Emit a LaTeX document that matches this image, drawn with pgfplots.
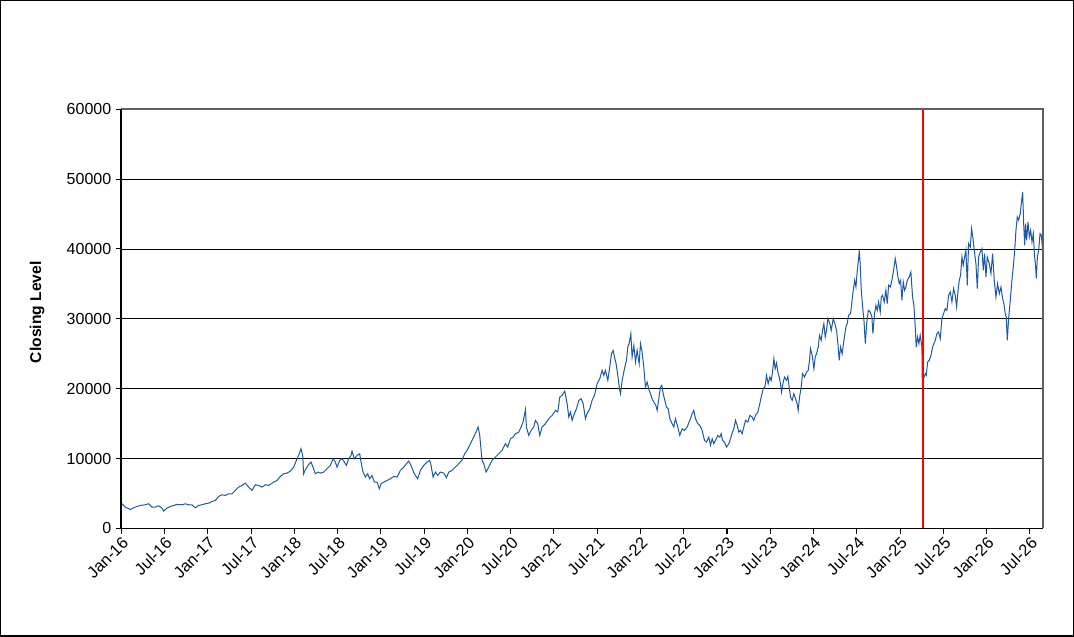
\documentclass[border=0pt]{standalone}
\usepackage{pgfplots}
\pgfplotsset{compat=1.18}
\usepackage{fontspec}
\setmainfont{Liberation Sans}
\definecolor{serblue}{RGB}{30,88,168}
\begin{document}
\begin{tikzpicture}
\begin{axis}[
  at={(0,0)}, anchor=origin,
  scale only axis,
  width=690.75pt, height=314.25pt,
  xmin=0, xmax=127.8, ymin=0, ymax=60000,
  xtick={0,6,...,126},
  xticklabels={Jan-16,Jul-16,Jan-17,Jul-17,Jan-18,Jul-18,Jan-19,Jul-19,Jan-20,Jul-20,Jan-21,Jul-21,Jan-22,Jul-22,Jan-23,Jul-23,Jan-24,Jul-24,Jan-25,Jul-25,Jan-26,Jul-26},
  ytick={0,10000,...,60000},
  xtick pos=bottom, ytick pos=left,
  scaled y ticks=false,
  /pgf/number format/assume math mode=true,
  yticklabel style={/pgf/number format/fixed,/pgf/number format/1000 sep={},font=\fontsize{12}{14}\selectfont},
  xticklabel style={rotate=45,anchor=north east,font=\fontsize{12.3}{14}\selectfont,inner sep=1pt},
  tick align=outside,
  major tick length=4pt,
  tick style={black,line width=0.8pt},
  ymajorgrids, grid style={black,line width=0.6pt},
  axis line style={draw=none},
  clip=false,
  every axis y label/.style={at={(-63pt,162pt)},rotate=90,anchor=center,font=\fontsize{11.7}{14}\selectfont\bfseries},
  ylabel={Closing Level},
]
\addplot[serblue,line width=0.75pt] coordinates {
(0.00,3600)(0.09,3533)(0.55,3055)(1.25,2721)(1.94,3055)(2.64,3294)(3.33,3390)(3.79,3533)(4.25,3055)(4.72,3055)(5.18,3246)(5.64,2911)(5.87,2482)(6.34,2911)(6.80,3150)(7.26,3294)(7.72,3437)(8.42,3390)(8.88,3533)(9.34,3390)(9.80,3390)(10.27,2960)(10.73,3294)(11.19,3390)(11.65,3533)(12.12,3628)(12.58,3866)(13.04,4010)(13.50,4582)(13.97,4821)(14.43,4726)(14.89,4964)(15.35,4964)(15.82,5442)(16.28,5919)(16.74,6158)(17.20,6492)(17.66,5919)(18.13,5442)(18.59,6254)(19.05,6158)(19.51,5919)(19.98,6254)(20.44,6158)(21.13,6635)(21.60,6874)(22.06,7446)(22.52,7828)(22.98,7923)(23.45,8210)(23.91,8783)(24.37,9976)(24.69,10693)(24.92,11409)(25.16,10454)(25.29,7828)(25.53,8401)(25.99,9165)(26.31,9499)(26.59,8783)(26.91,7828)(27.28,8067)(27.61,7923)(28.07,8067)(28.53,8544)(28.99,9022)
(29.36,9976)(29.69,9499)(29.92,8783)(30.29,9738)(30.61,9976)(30.94,9499)(31.21,9022)(31.54,9976)(31.86,10454)(32.00,11075)(32.32,9976)(32.69,10454)(33.06,10693)(33.25,9499)(33.53,8067)(33.85,7350)(34.17,7828)(34.45,7112)(34.77,7590)(35.10,6635)(35.47,6635)(35.79,5681)(36.02,6397)(36.39,6635)(36.86,6874)(37.32,7112)(37.78,7446)(38.24,7350)(38.70,8306)(39.17,8783)(39.54,9261)(39.86,9642)(40.18,9022)(40.55,8067)(40.79,7590)(41.11,7112)(41.48,8306)(41.94,9022)(42.40,9499)(42.77,9738)(42.96,9022)(43.24,7350)(43.56,8067)(43.88,7590)(44.25,8067)(44.72,7923)(45.09,7255)(45.41,8067)(45.87,8306)(46.34,8783)(46.80,9261)(47.26,9833)(47.63,10693)(47.95,11170)(48.42,12125)(48.88,13078)(49.20,13795)(49.48,14511)(49.71,13318)(49.90,11170)(50.03,9738)(50.27,9261)(50.59,8067)(50.96,8783)(51.42,9738)(51.88,10215)(52.35,10693)(52.81,11170)(53.27,12125)(53.59,11648)(53.97,12841)(54.34,13078)(54.66,13556)(55.12,13795)(55.44,14511)(55.72,15227)
(56.05,16994)(56.18,14511)(56.51,13318)(56.83,14034)(57.20,14511)(57.43,15466)(57.76,14989)(58.03,13318)(58.36,14511)(58.82,14989)(59.28,15705)(59.75,16182)(60.21,16898)(60.53,16659)(60.81,18807)(61.13,19046)(61.50,19666)(61.83,17853)(62.06,15943)(62.29,16659)(62.52,15466)(62.75,16182)(63.12,17137)(63.45,18330)(63.77,18568)(64.05,17853)(64.37,15705)(64.60,16420)(64.97,17137)(65.29,18330)(65.62,19046)(65.99,20717)(66.36,21433)(66.68,22626)(66.91,21910)(67.14,22626)(67.47,21194)(67.74,23103)(67.98,25013)(68.21,25490)(68.39,24535)(68.62,23580)(68.86,21910)(69.09,20000)(69.23,19285)(69.46,21194)(69.78,22865)(70.06,24058)(70.24,25967)(70.43,26445)(70.66,27877)(70.84,24535)(71.08,26206)(71.31,23818)(71.54,25490)(71.82,23580)(72.00,26445)(72.23,25251)(72.46,23103)(72.69,20239)(72.92,20955)(73.20,19762)(73.39,19285)(73.62,18568)(73.85,18091)(74.13,17614)(74.32,16898)(74.54,18568)(74.78,20239)(74.96,20478)(75.15,19285)(75.38,18330)(75.61,17375)(75.84,17137)(76.07,15705)(76.39,14989)(76.62,14511)(76.85,15705)(77.18,14511)(77.45,13318)(77.78,14273)(78.10,14034)(78.47,14511)(78.84,15466)(79.17,16420)(79.40,16898)(79.63,15705)(79.95,14989)(80.23,14750)(80.55,14034)(80.88,12602)
(81.16,12363)(81.48,13078)(81.71,11886)(81.94,12841)(82.17,12125)(82.40,12602)(82.73,13318)(83.00,13078)(83.19,13556)(83.38,12602)(83.65,12363)(83.93,11648)(84.25,12125)(84.48,12841)(84.76,13795)(84.95,14273)(85.18,15466)(85.41,14750)(85.64,13795)(85.87,14034)(86.10,13556)(86.33,14511)(86.57,15466)(86.89,15227)(87.17,16182)(87.49,15943)(87.72,15466)(87.95,16182)(88.28,16659)(88.55,17853)(88.74,18807)(89.02,20000)(89.25,20239)(89.48,21910)(89.71,20717)(89.94,21671)(90.13,21194)(90.31,22387)(90.50,24297)(90.68,22865)(90.87,23676)(91.05,22387)(91.24,21671)(91.42,20717)(91.56,19523)(91.79,20955)(91.98,21671)(92.25,21194)(92.44,21766)(92.62,20239)(92.81,18807)(93.04,18330)(93.27,19285)(93.50,18568)(93.73,17853)(93.87,16898)(94.06,18807)(94.29,20239)(94.47,22149)(94.75,21671)(95.02,22387)(95.26,22626)(95.44,24058)(95.58,25729)(95.81,24774)(96.05,22865)(96.23,24535)(96.42,25013)(96.65,25967)(96.83,27638)(97.06,26922)(97.25,28354)(97.43,29309)(97.62,27399)(97.80,28354)(97.99,30025)(98.27,29309)(98.45,28354)(98.73,30025)(98.96,29309)(99.19,28354)(99.38,26445)(99.56,24058)(99.75,25967)(99.98,25013)(100.21,26922)(100.49,28831)(100.67,29309)(100.86,30502)(101.14,30741)(101.37,32889)(101.51,34082)(101.70,35514)(101.88,34559)(102.07,36946)(102.25,38617)(102.35,39810)(102.49,37423)(102.62,34082)(102.81,31695)(102.99,29786)(103.18,26445)(103.37,29309)(103.60,31218)
(103.86,30980)(104.09,30264)(104.23,27877)(104.46,30741)(104.65,31934)(104.83,31218)(105.02,32411)(105.25,30980)(105.39,33128)(105.57,33366)(105.80,32411)(106.03,34082)(106.22,32172)(106.41,34798)(106.64,34559)(106.87,35514)(107.10,36946)(107.33,38617)(107.52,37423)(107.70,35991)(107.89,35037)(108.07,35514)(108.26,32650)(108.44,35275)(108.63,34082)(108.81,34559)(109.00,35514)(109.27,35991)(109.50,36707)(109.73,33128)(109.92,31934)(110.10,28831)(110.24,25967)(110.43,27399)(110.61,26445)(110.79,27638)(111.03,25967)(111.08,20955)(111.49,22149)(111.63,21910)(111.82,23818)(112.05,24058)(112.28,24774)(112.51,25967)(112.69,26445)(112.88,26922)(113.11,27877)(113.34,28115)(113.57,27161)(113.80,30025)(114.03,30741)(114.26,31457)(114.50,31218)(114.73,33366)(114.96,33843)(115.19,32411)(115.42,34320)(115.65,33366)(115.84,31695)(116.02,33843)(116.21,35514)(116.39,36230)(116.58,38856)(116.76,37662)(116.95,38856)(117.13,39810)(117.32,34798)(117.50,40765)(117.74,40288)(117.92,42913)(118.11,41481)(118.29,39810)(118.52,37901)(118.71,34320)(118.89,38856)(119.12,39572)(119.35,40049)(119.54,36946)(119.72,39333)(119.91,35991)(120.09,38856)(120.37,37901)(120.60,36469)(120.83,39333)(121.06,35514)(121.29,33128)(121.52,35037)(121.76,33605)(121.99,34559)(122.22,32889)(122.40,32172)(122.59,30741)(122.73,30264)(122.87,26922)(123.05,30025)(123.28,32650)(123.51,35514)(123.74,37901)(123.88,39572)(124.07,42674)(124.25,44583)(124.44,44106)(124.67,45061)(124.86,46970)(125.00,48163)(125.14,43628)(125.28,40526)(125.41,43628)(125.55,41242)(125.74,43866)(125.92,41720)(126.11,42674)(126.29,41003)(126.48,42197)(126.62,39333)(126.76,37901)(126.90,35753)(127.04,38856)(127.22,39810)(127.41,42197)(127.59,41958)(127.77,39810)
};
\draw[red,line width=1.5pt] (axis cs:111.13,0) -- (axis cs:111.13,60000);
\draw[gray!75!black,line width=1.3pt] (rel axis cs:0,1) -- (rel axis cs:1,1) -- (rel axis cs:1,0);
\draw[black,line width=1.3pt] (rel axis cs:0,1) -- (rel axis cs:0,0) -- (rel axis cs:1,0);
\end{axis}
\draw[black,line width=1pt] (-90.4pt,-80.6pt) rectangle (713.6pt,395.6pt);
\end{tikzpicture}
\end{document}
